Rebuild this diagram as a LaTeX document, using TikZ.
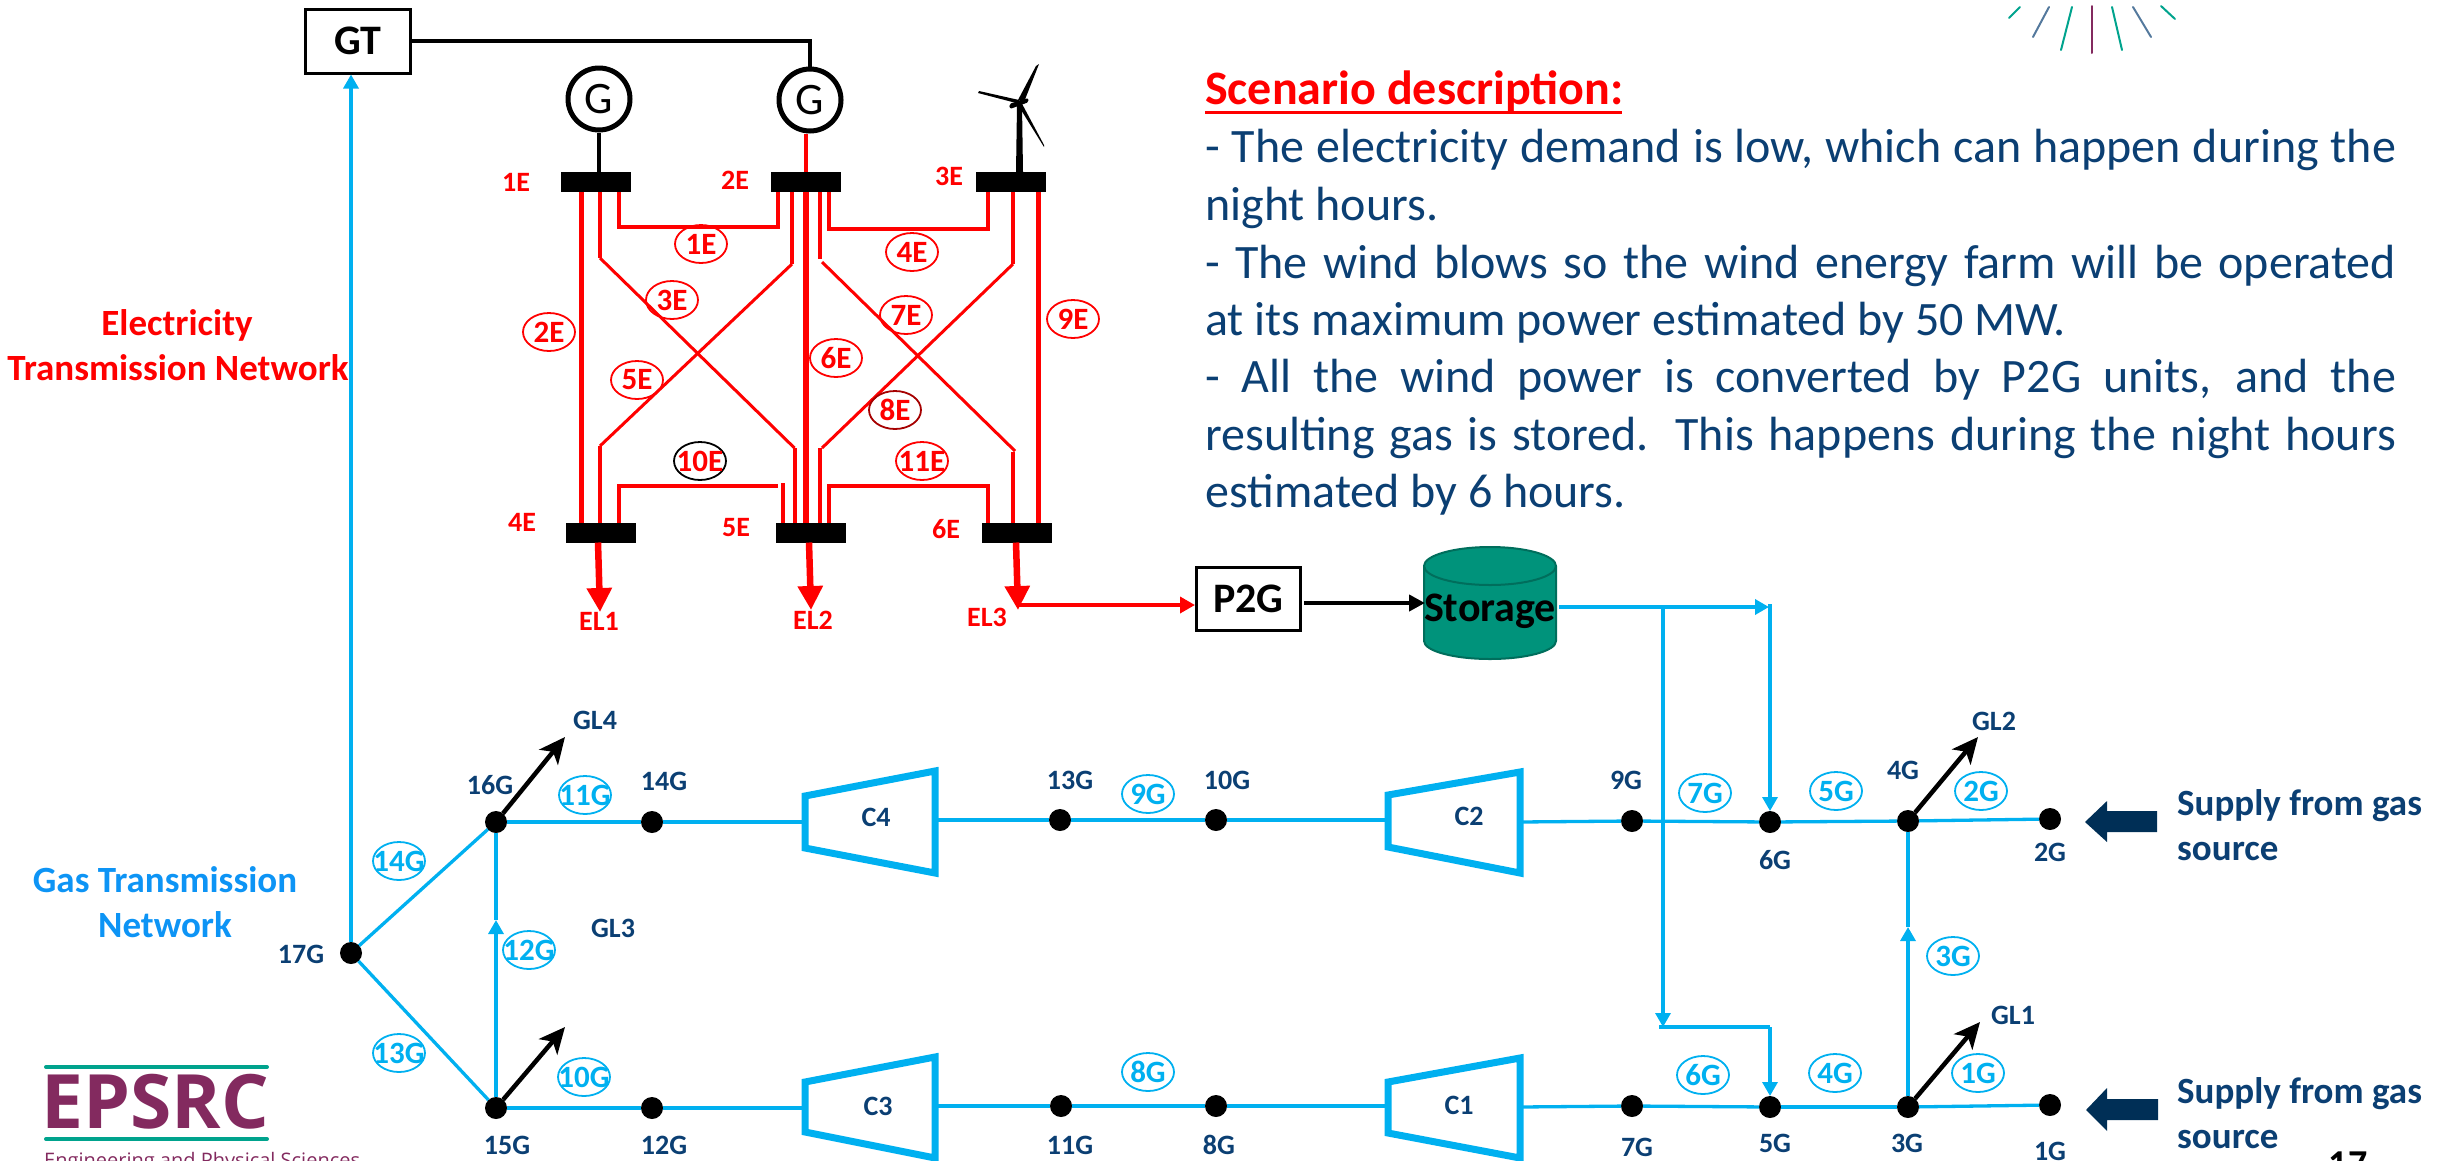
\documentclass[tikz,border=0pt]{standalone}
\usepackage{fontspec}
\setmainfont{Carlito}
\newfontfamily\logofont{Open Sans}
\usetikzlibrary{arrows.meta,shapes.geometric,calc}
\newcommand\myfs[1]{\fontsize{#1}{#1}\selectfont}
\newcommand\tg[1]{\makebox[0pt]{#1}}
\definecolor{gasblue}{HTML}{00B0F0}
\definecolor{labblue}{HTML}{0D94F5}
\definecolor{navy}{HTML}{0B3F73}
\definecolor{arrownavy}{HTML}{002F56}
\definecolor{elecred}{HTML}{FF0000}
\definecolor{storefill}{HTML}{00937B}
\definecolor{storeedge}{HTML}{006E5C}
\definecolor{logoteal}{HTML}{00A38D}
\definecolor{logopurple}{HTML}{832A5F}
\tikzset{
  x=1pt,y=-1pt,
  bus/.style={rectangle,fill=black,minimum width=70pt,minimum height=20pt,inner sep=0pt,outer sep=0pt},
  gen/.style={circle,draw=black,line width=5pt,minimum size=62pt,inner sep=0pt,font=\myfs{45}},
  dot/.style={circle,fill=black,minimum size=22pt,inner sep=0pt,outer sep=0pt},
  redtag/.style={ellipse,draw=elecred,line width=1.8pt,minimum width=52pt,minimum height=38pt,inner sep=0pt,text=elecred,font=\bfseries\myfs{31}},
  gastag/.style={ellipse,draw=gasblue,line width=1.8pt,minimum width=52pt,minimum height=38pt,inner sep=0pt,text=gasblue,font=\bfseries\myfs{31}},
  redlab/.style={inner sep=0pt,text=elecred,font=\bfseries\myfs{28}},
  gaslab/.style={inner sep=0pt,text=navy,font=\bfseries\myfs{28}},
  box/.style={rectangle,draw=black,line width=3pt,fill=white,inner sep=0pt,text=black,font=\bfseries\myfs{42}},
  rl/.style={draw=elecred,line width=4pt},
  rlthin/.style={draw=elecred,line width=3pt},
  rlthick/.style={draw=elecred,line width=5.5pt},
  gl/.style={draw=gasblue,line width=3.3pt},
  comp/.style={draw=gasblue,line width=7pt,miter limit=10},
  gasarrow/.style={-{Triangle[length=14pt,width=15pt]}},
  loadarrow/.style={draw=black,line width=4.5pt,-{Stealth[length=26pt,width=24pt,inset=7pt]}},
  elarrow/.style={draw=elecred,line width=6.5pt,-{Triangle[length=24pt,width=24pt]}},
  body/.style={anchor=base west,inner sep=0pt,text=navy,font=\myfs{48}},
  netlab/.style={anchor=base,inner sep=0pt,font=\bfseries\myfs{37}},
  supply/.style={anchor=base west,inner sep=0pt,text=navy,font=\bfseries\myfs{37}},
  ray/.style={line width=2pt,line cap=round},
}
\begin{document}
\begin{tikzpicture}
\useasboundingbox (0,0) rectangle (2450,1160);

% ---------- top right decoration
\draw[ray,logopurple] (2092,6) -- (2092,53);
\draw[ray,logoteal] (2072,7) -- (2061,50);
\draw[ray,logoteal] (2112,7) -- (2122,50);
\draw[ray,navy!70] (2049,7) -- (2033,37);
\draw[ray,navy!70] (2133,7) -- (2151,37);
\draw[ray,logoteal] (2020,7) -- (2009,18);
\draw[ray,logoteal] (2161,6) -- (2175,19);

% ---------- electrical nodes
\node[box,minimum width=105pt,minimum height=64pt] (GT) at (358,41) {GT};
\node[gen] (G1) at (599,99) {G};
\node[gen] (G2) at (810,100) {G};
\node[bus] (b1) at (596,182) {};
\node[bus] (b2) at (806,182) {};
\node[bus] (b3) at (1011,182) {};
\node[bus] (b4) at (601,532.5) {};
\node[bus] (b5) at (811,532.5) {};
\node[bus] (b6) at (1017,532.5) {};

\node[redlab] (l1E) at (516,182) {1E};
\node[redlab] (l2E) at (735,180) {2E};
\node[redlab] (l3E) at (949,176) {3E};
\node[redlab] (l4E) at (522,522) {4E};
\node[redlab] (l5E) at (736,528) {5E};
\node[redlab] (l6E) at (946,529) {6E};
\node[redlab] (EL1) at (599,621) {EL1};
\node[redlab] (EL2) at (813,620) {EL2};
\node[redlab] (EL3) at (987,617) {EL3};

% generator connections
\draw[line width=4.5pt] (GT.east) -| (G2.north);
\draw[line width=4.5pt] (G1.south) -- (G1.south |- b1.north);
\draw[rl] (b2.north) -- (b2.north |- G2.south);

% wind turbine
\coordinate (hub) at (1020,102);
\fill (1016,172) -- (1017,105) -- (1022,105) -- (1023,172) -- cycle;
\fill (1018,100) -- (1036,66) -- (1039,64) -- (1024,102) -- cycle;
\fill (1019,100) -- (979,91) -- (978,93) -- (1020,104) -- cycle;
\fill (1020,100) -- (1044,145) -- (1044,147) -- (1018,105) -- cycle;
\fill[rounded corners=2pt] (1009,104) -- (1028,98) -- (1029,102) -- (1010,109) -- cycle;

% line coordinates
\coordinate (x3a) at (600,258);
\coordinate (x3b) at (794.5,448);
\coordinate (x5a) at (792,264);
\coordinate (x5b) at (600,446);
\coordinate (x7a) at (820,259);
\coordinate (x7c) at (822,262);
\coordinate (x7b) at (1015,451);
\coordinate (x7d) at (1013,452);
\coordinate (x8a) at (1013,264);
\coordinate (x8b) at (822,448);
\coordinate (x8d) at (820,448);

% 1E
\draw[rl,line join=miter] (b1.south -| 619,0) -- (619,226.5) -- (778,226.5) -- (b2.south -| 778,0);
% 4E
\draw[rl,line join=miter] (b2.south -| 828.5,0) -- (828.5,228.5) -- (988,228.5) -- (b3.south -| 988,0);
% 10E
\draw[rl,line join=miter] (b4.north -| 619,0) -- (619,486) -- (778,486);
\draw[rl] (782.5,483) -- (b5.north -| 782.5,0);
% 11E
\draw[rl,line join=miter] (b5.north -| 828.5,0) -- (828.5,486) -- (988,486) -- (b6.north -| 988,0);
% 2E
\draw[rlthick] (b1.south -| 581.7,0) -- (b4.north -| 581.7,0);
% 6E
\draw[rlthick] (b2.south) -- (b2.south |- b5.north);
% 9E
\draw[rlthick] (b3.south -| 1038.5,0) -- (b6.north -| 1038.5,0);
% 3E
\draw[rl] (b1.south -| 600,0) -- (x3a);
\draw[rlthin] (x3a) -- (x3b);
\draw[rl] (x3b) -- (b5.north -| x3b);
% 5E
\draw[rl] (b2.south -| 792,0) -- (x5a);
\draw[rlthin] (x5a) -- (x5b);
\draw[rl] (x5b) -- (b4.north -| x5b);
% 7E
\draw[rl] (b2.south -| 820,0) -- (x7a);
\draw[rlthin] (x7c) -- (x7b);
\draw[rl] (x7d) -- (b6.north -| x7d);
% 8E
\draw[rl] (b3.south -| 1013,0) -- (x8a);
\draw[rlthin] (x8a) -- (x8b);
\draw[rl] (x8d) -- (b5.north -| x8d);

% demand arrows
\coordinate (t1) at (600,612);
\coordinate (t2) at (811,610);
\coordinate (t3) at (1018,610);
\draw[elarrow] (b4.south -| 598,0) -- (t1);
\draw[elarrow] (b5.south -| 809,0) -- (t2);
\draw[elarrow] (b6.south -| 1016,0) -- (t3);

% tags
\node[redtag] (r1) at (701,244) {\tg{1E}};
\node[redtag] (r2) at (549,332) {\tg{2E}};
\node[redtag] (r3) at (672,300) {\tg{3E}};
\node[redtag] (r4) at (912,252) {\tg{4E}};
\node[redtag] (r5) at (637,380) {\tg{5E}};
\node[redtag] (r6) at (836,358) {\tg{6E}};
\node[redtag] (r7) at (906,315) {\tg{7E}};
\node[redtag,draw=elecred!65!black] (r8) at (895,410) {\tg{8E}};
\node[redtag] (r9) at (1073,319) {\tg{9E}};
\node[redtag,draw=black] (r10) at (700,461) {\tg{10E}};
\node[redtag] (r11) at (922,461) {\tg{11E}};

% ---------- P2G and storage
\node[box,minimum width=104pt,minimum height=63pt] (P2G) at (1248.5,599) {P2G};
\coordinate (redturn) at (1018,605);
\draw[draw=elecred,line width=3.5pt,-{Triangle[length=15pt,width=16pt]}] (redturn) -- (P2G.west |- redturn);

\fill[storefill,draw=storeedge,line width=2pt]
  (1424,566) arc[start angle=180,end angle=0,x radius=66pt,y radius=19pt]
  -- (1556,641) arc[start angle=0,end angle=-180,x radius=66pt,y radius=18pt] -- cycle;
\draw[storeedge,line width=2pt] (1424,566) arc[start angle=180,end angle=360,x radius=66pt,y radius=19pt];
\node[inner sep=0pt,text=black,font=\bfseries\myfs{42}] (store) at (1490,611) {Storage};
\coordinate (storeIn) at (1425,603);
\draw[line width=4pt,-{Triangle[length=16pt,width=16pt]}] (P2G.east |- storeIn) ++(2,0) -- (storeIn);

% ---------- gas network nodes
\node[dot] (g17) at (351,953) {};
\node[dot] (g16) at (496,822) {};
\node[dot] (g14) at (652,822) {};
\node[dot] (g15) at (496,1108) {};
\node[dot] (g12) at (652,1108) {};
\node[dot] (g13) at (1060,820) {};
\node[dot] (g10) at (1216,820) {};
\node[dot] (g11) at (1061,1106) {};
\node[dot] (g8) at (1216,1106) {};
\node[dot] (g9) at (1632,821) {};
\node[dot] (g6) at (1770,822) {};
\node[dot] (g4) at (1908,821) {};
\node[dot] (g2) at (2050,819) {};
\node[dot] (g7) at (1632,1106) {};
\node[dot] (g5) at (1770,1107) {};
\node[dot] (g3) at (1908,1107) {};
\node[dot] (g1) at (2050,1105) {};

\node[gaslab] (n17) at (301,954) {17G};
\node[gaslab] (n16) at (490,785) {16G};
\node[gaslab] (n14) at (664,781) {14G};
\node[gaslab] (n15) at (507,1145) {15G};
\node[gaslab] (n12) at (664,1145) {12G};
\node[gaslab] (n13) at (1070,780) {13G};
\node[gaslab] (n10) at (1227,780) {10G};
\node[gaslab] (n11) at (1070,1145) {11G};
\node[gaslab] (n8) at (1219,1145) {8G};
\node[gaslab] (n9) at (1626,780) {9G};
\node[gaslab] (n6) at (1775,860) {6G};
\node[gaslab] (n4) at (1903,770) {4G};
\node[gaslab] (n2) at (2050,852) {2G};
\node[gaslab] (n7) at (1637,1147) {7G};
\node[gaslab] (n5) at (1775,1143) {5G};
\node[gaslab] (n3) at (1907,1143) {3G};
\node[gaslab] (n1) at (2050,1151) {1G};
\node[gaslab] (GL4) at (595,720) {GL4};
\node[gaslab] (GL3) at (613,928) {GL3};
\node[gaslab] (GL2) at (1994,721) {GL2};
\node[gaslab] (GL1) at (2013,1015) {GL1};

% compressors
\draw[comp] (805,796) -- (935,771) -- (935,873) -- (805,848) -- cycle;
\draw[comp] (1388,795) -- (1520,772) -- (1520,873) -- (1388,847) -- cycle;
\draw[comp] (805,1082) -- (935,1057) -- (935,1158) -- (805,1132) -- cycle;
\draw[comp] (1388,1082) -- (1520,1058) -- (1520,1158) -- (1388,1133) -- cycle;
\node[gaslab] (C4) at (876,817) {C4};
\node[gaslab] (C3) at (878,1106) {C3};
\node[gaslab] (C2) at (1469,816) {C2};
\node[gaslab] (C1) at (1459,1105) {C1};
\coordinate (c4w) at (805,822);
\coordinate (c4e) at (935,820);
\coordinate (c3w) at (805,1108);
\coordinate (c3e) at (935,1106);
\coordinate (c2w) at (1388,820);
\coordinate (c2e) at (1520,822);
\coordinate (c1w) at (1388,1106);
\coordinate (c1e) at (1520,1107);

% gas lines
\draw[gl] (g16) -- (g14);
\draw[gl] (g14) -- (c4w);
\draw[gl] (c4e) -- (g13);
\draw[gl] (g13) -- (g10);
\draw[gl] (g10) -- (c2w);
\draw[gl] (c2e) -- (g9);
\draw[gl] (g9) -- (g6);
\draw[gl] (g6) -- (g4);
\draw[gl] (g4) -- (g2);
\draw[gl] (g15) -- (g12);
\draw[gl] (g12) -- (c3w);
\draw[gl] (c3e) -- (g11);
\draw[gl] (g11) -- (g8);
\draw[gl] (g8) -- (c1w);
\draw[gl] (c1e) -- (g7);
\draw[gl] (g7) -- (g5);
\draw[gl] (g5) -- (g3);
\draw[gl] (g3) -- (g1);
\draw[gl] (g17) -- (g16);
\draw[gl] (g17) -- (g15);
\coordinate (m12) at (496,920);
\coordinate (m3) at (1908,927);
\draw[gl,gasarrow] (g15) -- (g15 |- m12);
\draw[gl] (g15 |- m12) -- (g16);
\draw[gl,gasarrow] (g3) -- (m3);
\draw[gl] (m3) -- (g4);
\draw[gl,gasarrow] (g17) -- (g17 |- GT.south);

% storage feeds
\coordinate (sout) at (1559,607);
\coordinate (j1) at (1663,607);
\coordinate (j2) at (1769,607);
\coordinate (j3) at (1663,1027);
\coordinate (j4) at (1659,1027);
\coordinate (j5) at (1770,1027);
\coordinate (j6) at (1770,604);
\draw[draw=gasblue,line width=4.5pt,gasarrow] (sout) -- (j2);
\draw[gl,gasarrow] (j1) -- (j3);
\draw[draw=gasblue,line width=4pt] (j4) -- (j5);
\draw[gl,gasarrow] (j5) -- (g5.north);
\draw[gl,gasarrow] (j6) -- (g6.north);

% gas load arrows
\coordinate (a4) at (565,737);
\coordinate (a3) at (565,1027);
\coordinate (a2) at (1978,737);
\coordinate (a1) at (1980,1022);
\draw[loadarrow] (g16) -- (a4);
\draw[loadarrow] (g15) -- (a3);
\draw[loadarrow] (g4) -- (a2);
\draw[loadarrow] (g3) -- (a1);

% gas tags
\node[gastag] (t11) at (585,795) {\tg{11G}};
\node[gastag] (t14) at (399,861) {\tg{14G}};
\node[gastag] (t12) at (529,950) {\tg{12G}};
\node[gastag] (t13) at (399,1053) {\tg{13G}};
\node[gastag] (t10) at (584,1077) {\tg{10G}};
\node[gastag] (t9) at (1148,794) {\tg{9G}};
\node[gastag] (t8) at (1148,1072) {\tg{8G}};
\node[gastag] (t7) at (1705,793) {\tg{7G}};
\node[gastag] (t5) at (1836,791) {\tg{5G}};
\node[gastag] (t2) at (1981,791) {\tg{2G}};
\node[gastag] (t3) at (1953,956) {\tg{3G}};
\node[gastag] (t6) at (1703,1075) {\tg{6G}};
\node[gastag] (t4) at (1835,1073) {\tg{4G}};
\node[gastag] (t1g) at (1978,1073) {\tg{1G}};

% supply
\fill[arrownavy] (2085,822) -- (2107,801) -- (2107,811) -- (2157,811) -- (2157,832) -- (2107,832) -- (2107,842) -- cycle;
\fill[arrownavy] (2086,1110) -- (2107,1088) -- (2107,1099) -- (2158,1099) -- (2158,1120) -- (2107,1120) -- (2107,1131) -- cycle;
\node[supply] (s1a) at (2177,815) {Supply from gas};
\node[supply] (s1b) at (2177,860) {source};
\node[supply] (s2a) at (2177,1103) {Supply from gas};
\node[supply] (s2b) at (2177,1148) {source};

% network captions
\node[netlab,text=elecred] (e1) at (177,335) {Electricity};
\node[netlab,text=elecred] (e2) at (178,380) {Transmission Network};
\node[netlab,text=labblue] (n1l) at (165,892) {Gas Transmission};
\node[netlab,text=labblue] (n2l) at (165,937) {Network};

% scenario text
\node[anchor=base west,inner sep=0pt,text=elecred,font=\bfseries\myfs{48}] (title) at (1205,104) {Scenario description:};
\draw[draw=elecred,line width=3pt] (title.base west) ++(0,8) -- ++(417,0);
\newcommand\jl[1]{\hbox to 1191pt{#1}}
\node[body] (b01) at (1205,162) {\jl{- The electricity demand is low, which can happen during the}};
\node[body] (b02) at (1205,220) {night hours.};
\node[body] (b03) at (1205,278) {\jl{- The wind blows so the wind energy farm will be operated}};
\node[body] (b04) at (1205,335) {at its maximum power estimated by 50 MW.};
\node[body] (b05) at (1205,392) {\jl{- All the wind power is converted by P2G units, and the}};
\node[body] (b06) at (1205,450) {\jl{resulting gas is stored. This happens during the night hours}};
\node[body] (b07) at (1205,507) {estimated by 6 hours.};

% logo
\draw[logoteal,line width=4pt,line cap=round] (46,1067) -- (267,1067);
\draw[logoteal,line width=4pt,line cap=round] (46,1139) -- (267,1139);
\node[anchor=base west,inner sep=0pt,text=logopurple,font=\logofont\bfseries\myfs{75}] (logo) at (41,1128) {EPSRC};
\node[anchor=base west,inner sep=0pt,text=logopurple,font=\logofont\myfs{20}] (logosub) at (44,1167) {Engineering and Physical Sciences};

% page number
\node[anchor=base,inner sep=0pt,font=\bfseries\myfs{38}] (page) at (2348,1176) {17};
\end{tikzpicture}
\end{document}
